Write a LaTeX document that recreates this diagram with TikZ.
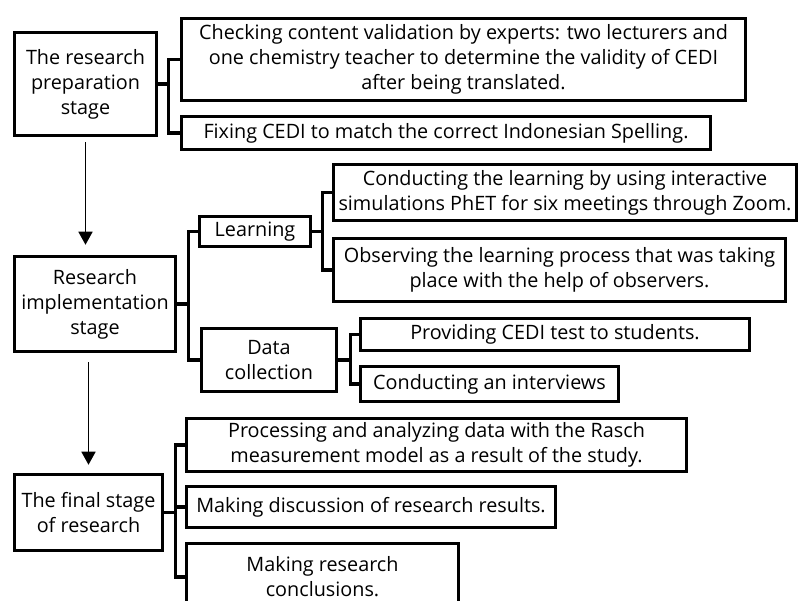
\documentclass[tikz,border=0pt]{standalone}
\usepackage{fontspec}
\setmainfont{Open Sans}
\usetikzlibrary{arrows.meta}

\tikzset{
  stagebox/.style={draw, line width=3.5pt, align=center, inner sep=0pt},
  flow/.style={-{Triangle[length=13pt,width=14pt]}, line width=1.5pt},
  branch/.style={line width=3.5pt},
}

\begin{document}
\begin{tikzpicture}[x=1pt, y=-1pt, font=\fontsize{19.8}{25}\selectfont]
\clip (0,0) rectangle (801,601);
\fill[white] (0,0) rectangle (801,601);

% stage 1: preparation
\node[stagebox, minimum width=142pt, minimum height=103pt] (prep) at (85.5,84) {The research\\preparation\\stage};
\node[stagebox, minimum width=564pt, minimum height=82pt] (chk) at (463.5,59.5) {Checking content validation by experts: two lecturers and\\one chemistry teacher to determine the validity of CEDI\\after being translated.};
\node[stagebox, minimum width=529pt, minimum height=33pt] (fix) at (446,133) {Fixing CEDI to match the correct Indonesian Spelling.};
\foreach \c in {chk,fix}{
  \draw[branch] (prep.east) -- ++(10,0) |- (\c.west);
}

% stage 2: implementation
\node[stagebox, minimum width=161pt, minimum height=95pt] (impl) at (95,304) {Research\\implementation\\stage};
\node[stagebox, minimum width=111pt, minimum height=30pt] (learn) at (255,231.5) {Learning};
\node[stagebox, minimum width=135pt, minimum height=63pt] (data) at (269,360) {Data\\collection};
\node[stagebox, minimum width=463pt, minimum height=56pt] (phet) at (565,192.5) {Conducting the learning by using interactive\\simulations PhET for six meetings through Zoom.};
\node[stagebox, minimum width=452pt, minimum height=63pt] (obs) at (559.5,270) {Observing the learning process that was taking\\place with the help of observers.};
\node[stagebox, minimum width=389pt, minimum height=32pt] (test) at (555,334.5) {Providing CEDI test to students.};
\node[stagebox, minimum width=258pt, minimum height=35pt] (intv) at (489.5,384) {Conducting an interviews};
\foreach \c in {learn,data}{
  \draw[branch] (impl.east) -- ++(11,0) |- (\c.west);
}
\foreach \c in {phet,obs}{
  \draw[branch] (learn.east) -- ++(10,0) |- (\c.west);
}
\foreach \c in {test,intv}{
  \draw[branch] (data.east) -- ++(12,0) |- (\c.west);
}

% stage 3: final
\node[stagebox, minimum width=148pt, minimum height=76pt] (fin) at (88.5,512.5) {The final stage\\of research};
\node[stagebox, minimum width=500pt, minimum height=53pt] (rasch) at (436.5,445) {Processing and analyzing data with the Rasch\\measurement model as a result of the study.};
\node[stagebox, minimum width=369pt, minimum height=41pt] (disc) at (371,507) {Making discussion of research results.};
\node[stagebox, minimum width=272pt, minimum height=67pt] (concl) at (322.5,577) {Making research\\conclusions.};
\foreach \c in {rasch,disc,concl}{
  \draw[branch] (fin.east) -- ++(11,0) |- (\c.west);
}

% stage flow
\draw[flow] ([yshift=-5pt]prep.south) -- ([yshift=10pt]prep.south |- impl.north);
\draw[flow] ([yshift=-9pt]impl.south -| fin.north) -- ([yshift=8pt]fin.north);
\end{tikzpicture}
\end{document}
